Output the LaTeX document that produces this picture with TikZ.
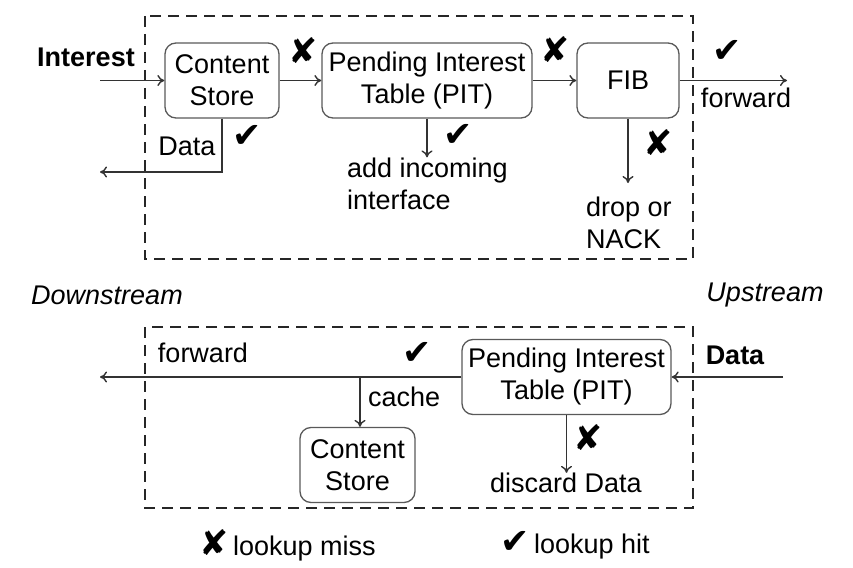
\documentclass[tikz,border=0pt]{standalone}
\usepackage{fontspec}
\setmainfont{Liberation Sans}
\newfontfamily\symfont{DejaVu Sans}
\usetikzlibrary{arrows.meta}
\begin{document}
\begin{tikzpicture}[x=1pt,y=-1pt,
  font=\fontsize{27}{32}\selectfont,
  box/.style={draw=black!65,line width=1.3pt,rounded corners=11pt,align=center,inner sep=0pt},
  txt/.style={inner sep=0pt,align=left},
  group/.style={draw=black!85,line width=2.6pt,dash pattern=on 11pt off 7pt},
  conn/.style={draw=black!80,line width=1.4pt},
  arr/.style={conn,-{To[length=7pt,width=11pt]}},
  tick/.style={inner sep=0pt,text height=25pt,text depth=0pt,font=\symfont\fontsize{35}{35}\selectfont}]
\useasboundingbox (0,0) rectangle (853,567);
% groups
\draw[group] (145,16) rectangle (693,259);
\draw[group] (145,327) rectangle (693,508);
% top boxes
\node[box,minimum width=114pt,minimum height=75pt] (cs) at (222,80.5) {Content\\Store};
\node[box,minimum width=210pt,minimum height=75pt] (pit) at (427,80.5) {Pending Interest\\Table (PIT)};
\node[box,minimum width=102pt,minimum height=75pt] (fib) at (628,80.5) {FIB};
% bottom boxes
\node[box,minimum width=209pt,minimum height=75pt] (pitb) at (566.5,377) {Pending Interest\\Table (PIT)};
\node[box,minimum width=115pt,minimum height=75pt] (csb) at (357.5,465) {Content\\Store};
% coordinates
\coordinate (inL) at (100,80.5);
\coordinate (outR) at (787,80.5);
\coordinate (dataL) at (100,172);
\coordinate (fibEnd) at (628,183);
\coordinate (dinR) at (783,377);
\coordinate (fwdL) at (100,377);
\coordinate (branch) at (360,377);
% top texts
\node[txt,font=\bfseries\fontsize{27}{32}\selectfont] (interest) at (86,57) {Interest};
\node[txt] (dataLbl) at (187,146) {Data};
\node[txt] (fwdTop) at (746,98) {forward};
\node[txt,anchor=west] (addinc) at (347,183.5) {add incoming\\interface};
\node[txt,anchor=west] (drop) at (586,223) {drop or\\NACK};
% middle labels
\node[txt,font=\itshape\fontsize{27}{32}\selectfont] (down) at (107,295) {Downstream};
\node[txt,font=\itshape\fontsize{27}{32}\selectfont] (up) at (765,295) {Upstream};
% bottom texts
\node[txt,font=\bfseries\fontsize{27}{32}\selectfont] (dataB) at (735,355) {Data};
\node[txt] (fwdB) at (203,353) {forward};
\node[txt,anchor=west] (cache) at (368,397) {cache};
\node[txt] (discard) at (566,483) {discard Data};
% connectors top
\draw[arr] (inL) -- (cs.west);
\draw[arr] (cs.east) -- (pit.west);
\draw[arr] (pit.east) -- (fib.west);
\draw[arr] (fib.east) -- (outR);
\draw[arr] (cs.south) -- (cs.south |- dataL) -- (dataL);
\draw[arr] (pit.south) -- (pit.south |- addinc.north);
\draw[arr] (fib.south) -- (fibEnd);
% connectors bottom
\draw[arr] (dinR) -- (pitb.east);
\draw[arr] (pitb.west) -- (fwdL);
\draw[arr] (branch) -- (branch |- csb.north);
\draw[arr] (pitb.south) -- (pitb.south |- discard.north);
% marks
\node[tick] (x1) at (303,51) {✘};
\node[tick] (x2) at (555,50) {✘};
\node[tick] (x3) at (658,143) {✘};
\node[tick] (x4) at (588,438) {✘};
\node[tick] (c1) at (727,50) {✔};
\node[tick] (c2) at (247,135) {✔};
\node[tick] (c3) at (458,134) {✔};
\node[tick] (c4) at (417,352) {✔};
% legend
\node[txt,anchor=west] (legMiss) at (199,545) {{\symfont\fontsize{35}{35}\selectfont ✘}\,lookup miss};
\node[txt,anchor=west] (legHit) at (500,545) {{\symfont\fontsize{35}{35}\selectfont ✔}\,lookup hit};
\end{tikzpicture}
\end{document}
